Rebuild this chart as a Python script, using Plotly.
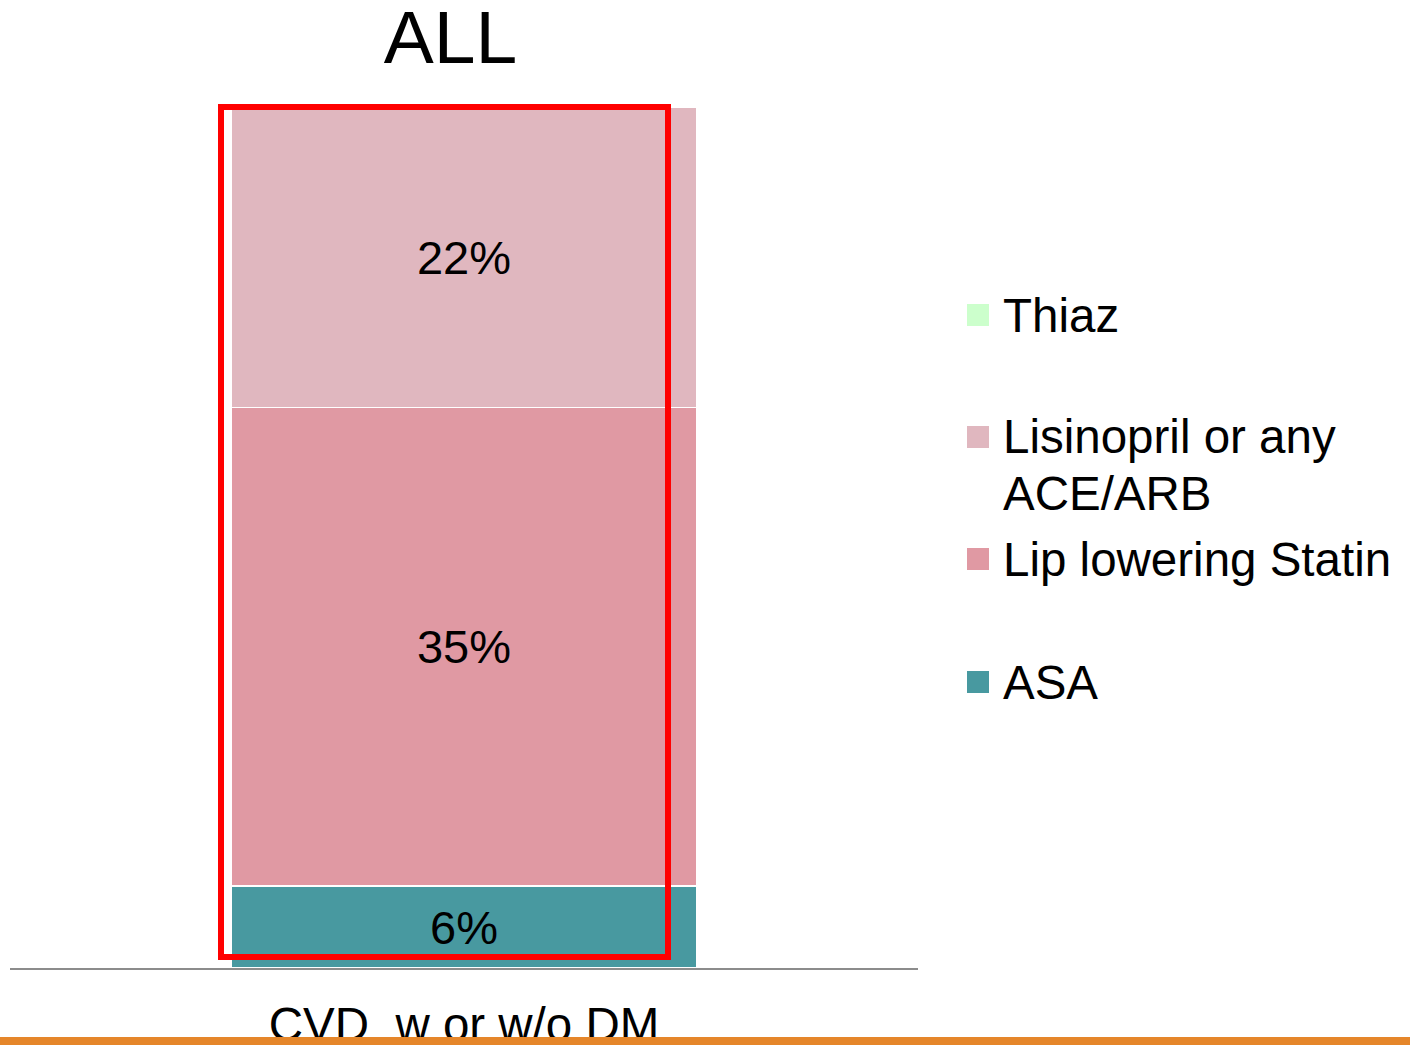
import plotly.graph_objects as go

# Data
category = ["CVD  w or w/o DM"]
series = ["ASA", "Lip lowering Statin", "Lisinopril or any<br>ACE/ARB", "Thiaz"]
asa = [6]
statin = [35]
ace_arb = [22]
thiaz = [0]
values = [asa, statin, ace_arb, thiaz]
colors = ["#4899A0", "#E099A3", "#E0B7BF", "#CCFFCC"]

W, H = 1410, 1045
L, R, T, B = 10, 918, 107, 968
FONT = "Liberation Sans, Arial, sans-serif"


def px_x(x):
    return (x - L) / (R - L)


def px_y(y):
    return (B - y) / (B - T)


fig = go.Figure()
for name, vals, col in zip(series, values, colors):
    fig.add_trace(go.Bar(
        x=category, y=vals, name=name,
        marker=dict(color=col, line=dict(color="white", width=1.2)),
        text=[f"{v}%" if v > 0 else "" for v in vals],
        textposition="inside", insidetextanchor="middle", textangle=0,
        constraintext="none",
        textfont=dict(family=FONT, size=47, color="black"),
        showlegend=False, hoverinfo="skip",
    ))

shapes = []
annotations = []

# Legend, top to bottom
legend_rows = [(3, 315), (2, 437), (1, 559), (0, 682)]
for idx, ycap in legend_rows:
    shapes.append(dict(
        type="rect", xref="paper", yref="paper",
        x0=px_x(967), x1=px_x(989), y0=px_y(ycap + 11), y1=px_y(ycap - 11),
        fillcolor=colors[idx], line=dict(width=0), layer="above",
    ))
    for k, line in enumerate(series[idx].split("<br>")):
        annotations.append(dict(
            text=line, xref="paper", yref="paper",
            x=px_x(1001), y=px_y(ycap + 56 * k),
            xanchor="left", yanchor="middle", showarrow=False,
            font=dict(family=FONT, size=47.5, color="black"),
        ))

# Highlight frame around the bar
shapes.append(dict(
    type="rect", xref="paper", yref="paper",
    x0=px_x(221), x1=px_x(668), y0=px_y(957), y1=px_y(107),
    line=dict(color="#FF0000", width=6), layer="above",
))

# Orange rule along the bottom edge
shapes.append(dict(
    type="rect", xref="paper", yref="paper",
    x0=px_x(-5), x1=px_x(W + 5), y0=px_y(H + 10), y1=px_y(1037),
    fillcolor="#E5862A", line=dict(width=0), layer="above",
))

fig.update_layout(
    width=W, height=H,
    margin=dict(l=L, r=W - R, t=T, b=H - B, pad=0, autoexpand=False),
    paper_bgcolor="white", plot_bgcolor="white",
    barmode="stack", bargap=0.488,
    title=dict(
        text="ALL", xref="paper", x=px_x(450.5), xanchor="center",
        yref="container", y=1 - 37 / H, yanchor="middle",
        font=dict(family=FONT, size=75, color="black"),
    ),
    xaxis=dict(
        showline=True, linecolor="#8C8C8C", linewidth=1.5,
        showgrid=False, zeroline=False, ticks="",
        ticklabelstandoff=14, automargin=False,
        tickfont=dict(family=FONT, size=47.5, color="black"),
        fixedrange=True,
    ),
    yaxis=dict(range=[0, 63], visible=False, fixedrange=True, automargin=False),
    shapes=shapes, annotations=annotations,
    showlegend=False,
)

fig.write_html("out.html")
